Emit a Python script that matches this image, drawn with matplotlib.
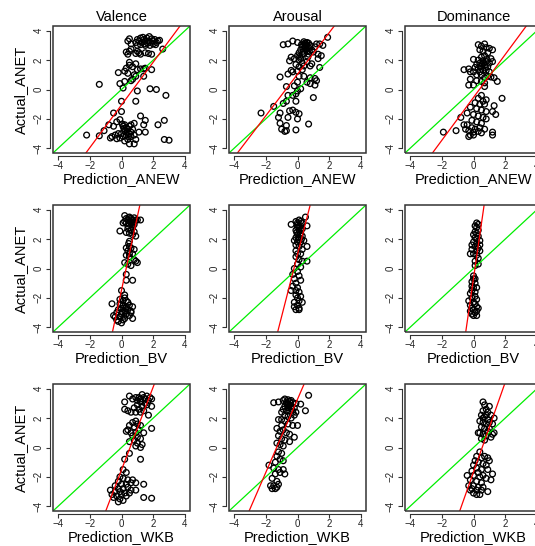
import matplotlib
matplotlib.use("Agg")
import matplotlib.pyplot as plt
from matplotlib.patches import Rectangle
import numpy as np

plt.rcParams['font.family'] = ['Liberation Sans', 'DejaVu Sans']

col_titles = ["Valence", "Arousal", "Dominance"]
row_labels = ["Prediction_ANEW", "Prediction_BV", "Prediction_WKB"]
y_label = "Actual_ANET"
ticks = [-4, -2, 0, 2, 4]

# (prediction, actual) pairs
val_anew = [
    (0.5, 3.45), (0.4, 3.3), (0.6, 3.1), (0.9, 3.2), (1.0, 3.4), (1.1, 3.3), (1.2, 3.5), (1.3, 3.2),
    (1.4, 3.4), (1.5, 3.3), (1.6, 3.5), (1.7, 3.3), (1.8, 3.2), (1.9, 3.45), (2.0, 3.3), (2.1, 3.4),
    (2.2, 3.2), (2.3, 3.3), (2.4, 3.35), (1.2, 3.05), (1.5, 3.0), (1.8, 3.0), (2.0, 3.1), (1.0, 3.0),
    (1.35, 3.55), (1.65, 3.15), (1.75, 3.6), (1.45, 3.1), (2.15, 3.05),
    (2.6, 2.75), (0.3, 2.55), (0.5, 2.6), (0.6, 2.75), (0.9, 2.45), (1.1, 2.5), (1.2, 2.4), (1.5, 2.5),
    (1.7, 2.45), (1.9, 2.4), (1.0, 2.6), (0.4, 2.4), (0.5, 1.85), (0.5, 1.65), (0.7, 1.55), (0.9, 1.75),
    (0.3, 1.45), (0.2, 1.25), (-0.2, 1.15), (0.4, 1.1), (0.8, 1.0), (1.0, 1.35), (1.2, 1.4), (1.4, 1.4),
    (1.5, 1.45), (1.9, 1.35), (1.4, 0.9), (0.6, 0.6), (0.7, 0.7), (0.9, 0.9), (0.2, 0.55), (-0.1, 0.4),
    (0.1, 0.1), (-1.4, 0.35), (1.0, -0.1), (1.8, 0.05), (2.2, 0.0), (2.8, -0.4), (0.9, -0.8), (0.0, -0.8),
    (0.0, -1.5), (-0.5, -1.6), (1.2, -1.8), (1.5, -2.1), (2.7, -2.1), (2.3, -2.4), (1.4, -2.4), (1.5, -2.9),
    (-0.8, -2.4), (-1.1, -2.8), (-1.4, -3.15), (-2.2, -3.1), (2.7, -3.4), (3.0, -3.45), (0.8, -3.7),
    (0.5, -3.7), (-0.3, -2.2), (-0.1, -2.05), (0.1, -2.5), (0.2, -2.4), (0.3, -2.6), (0.4, -2.7),
    (0.5, -2.5), (0.6, -2.4), (0.7, -2.7), (0.8, -2.3), (0.2, -2.8), (0.0, -3.0), (-0.2, -3.0),
    (-0.4, -3.1), (-0.6, -3.2), (-0.7, -3.3), (0.1, -3.2), (0.3, -3.1), (0.5, -3.0), (0.6, -3.2),
    (0.8, -3.1), (0.9, -3.4), (0.4, -3.4), (-0.1, -3.3), (-0.3, -3.35), (0.2, -3.5), (-0.5, -2.5),
    (1.1, -2.9), (0.6, -2.9), (0.15, -2.65), (0.35, -2.9), (0.05, -2.35), (0.45, -3.2),
]
aro_anew = [
    (-0.9, 3.05), (-0.6, 3.1), (-0.3, 3.3), (0.0, 3.2), (0.4, 3.25), (0.5, 3.1), (0.6, 3.2), (0.7, 3.15),
    (0.8, 3.0), (1.2, 3.1), (1.4, 3.1), (1.6, 3.0), (1.9, 3.55), (0.3, 2.9), (0.2, 2.7), (0.5, 2.8),
    (0.6, 2.6), (0.9, 2.7), (1.0, 2.55), (1.1, 2.9), (0.1, 2.5), (0.0, 2.3), (0.3, 2.4), (0.7, 2.4),
    (1.3, 2.4), (1.5, 2.3), (1.3, 2.1), (-0.2, 2.1), (0.1, 2.0), (0.2, 2.1), (-0.4, 2.2), (-0.5, 1.95),
    (0.3, 1.8), (0.6, 1.9), (-0.1, 1.7), (0.1, 1.55), (0.9, 1.75), (0.8, 1.6), (0.4, 1.6), (1.4, 1.5),
    (-0.4, 1.3), (-0.3, 1.2), (0.0, 1.25), (0.3, 1.35), (-0.6, 1.05), (-1.1, 0.85), (0.1, 0.9),
    (0.4, 0.9), (0.8, 0.8), (1.1, 0.75), (1.2, 0.6), (0.6, 0.5), (0.8, 0.4), (1.1, 0.3), (0.0, 0.5),
    (-0.2, 0.25), (-0.7, 0.2), (0.2, 0.05), (0.0, -0.1), (-0.3, -0.4), (-0.6, -0.4), (-0.1, -0.3),
    (1.0, -0.55), (-0.1, -0.8), (-0.7, -0.8), (-0.9, -0.95), (-1.5, -1.15), (-2.3, -1.6), (-1.1, -1.6),
    (-0.5, -1.45), (-0.3, -1.4), (-0.1, -1.55), (0.1, -1.65), (-1.2, -1.9), (-1.1, -2.3), (-0.7, -2.45),
    (-1.0, -2.7), (-0.8, -2.85), (-0.7, -2.8), (-0.1, -2.75), (0.7, -2.35), (-0.6, -1.9), (0.0, -2.0),
    (0.4, 3.0), (0.5, 2.95), (0.55, 2.7), (0.7, 2.85), (0.35, 2.6), (0.45, 3.15), (0.25, 3.05),
    (0.6, 3.05), (0.75, 2.6), (0.4, 2.45), (0.15, 2.25), (0.65, 2.2),
]
dom_anew = [
    (0.3, 3.05), (0.7, 3.1), (0.5, 2.95), (0.8, 2.85), (1.0, 2.8), (1.2, 2.7), (0.4, 2.7), (0.6, 2.6),
    (0.9, 2.5), (0.7, 2.3), (0.5, 2.2), (1.1, 2.1), (0.0, 2.05), (0.3, 2.0), (0.6, 1.95), (0.8, 1.9),
    (1.0, 1.8), (1.2, 1.9), (0.4, 1.8), (0.2, 1.7), (0.5, 1.6), (0.7, 1.65), (0.9, 1.55), (0.1, 1.5),
    (0.3, 1.45), (-0.3, 1.4), (-0.6, 1.35), (-0.2, 1.2), (0.0, 1.2), (0.4, 1.2), (0.6, 1.3), (0.8, 1.3),
    (1.0, 1.2), (0.2, 1.0), (0.5, 1.0), (0.7, 0.8), (0.9, 0.9), (1.1, 0.85), (1.5, 0.55), (-0.2, 0.7),
    (0.2, 0.6), (0.5, 0.55), (0.7, 0.45), (-0.3, 0.3), (0.0, 0.3), (0.7, 0.2), (1.3, 0.8), (1.8, -0.6),
    (0.65, 1.8), (0.55, 1.75), (0.75, 1.5), (0.85, 2.05), (0.45, 1.55),
    (0.5, -0.4), (0.3, -0.6), (0.6, -0.8), (0.8, -0.7), (0.1, -0.9), (0.4, -1.0), (0.7, -1.0),
    (1.3, -1.1), (-0.2, -1.2), (0.2, -1.3), (0.5, -1.4), (0.8, -1.5), (1.2, -1.5), (1.4, -1.7),
    (-0.4, -1.6), (0.0, -1.7), (0.3, -1.8), (0.6, -1.9), (0.8, -2.0), (-0.8, -1.9), (-0.1, -2.1),
    (0.2, -2.2), (0.5, -2.3), (-0.4, -2.4), (-0.1, -2.6), (0.1, -2.7), (0.4, -2.6), (0.7, -2.7),
    (-0.5, -2.7), (-0.3, -2.8), (0.0, -2.9), (0.3, -2.85), (0.5, -2.95), (-0.2, -3.1), (-0.3, -3.2),
    (0.0, -3.1), (1.2, -2.9), (1.2, -3.1), (-1.1, -2.8), (-1.9, -2.9), (-0.6, -2.4),
]
val_bv = [
    (0.2, 3.6), (0.3, 3.4), (0.4, 3.3), (0.5, 3.5), (0.6, 3.4), (0.7, 3.3), (0.8, 3.45), (0.9, 3.3),
    (1.0, 3.3), (1.2, 3.3), (0.3, 3.1), (0.5, 3.0), (0.6, 3.1), (0.8, 3.0), (0.4, 2.9), (0.7, 2.8),
    (0.2, 3.2), (0.1, 3.1), (0.6, 2.6), (0.8, 2.5), (0.5, 2.4), (0.3, 2.45), (-0.1, 2.55), (0.7, 2.3),
    (0.9, 2.2), (0.4, 2.7), (0.5, 1.85), (0.45, 1.7), (0.5, 1.5), (0.3, 1.4), (0.6, 1.4), (0.8, 1.3),
    (0.55, 3.2), (0.75, 3.1), (0.45, 3.45), (0.65, 2.95),
    (0.4, 1.2), (0.5, 1.0), (0.7, 1.0), (0.3, 0.9), (0.5, 0.8), (0.8, 0.6), (0.9, 0.5), (1.0, 0.4),
    (0.2, 0.4), (0.4, 0.3), (0.6, 0.2), (0.3, -0.4), (0.3, -0.8), (0.7, -0.8), (0.0, -1.5), (0.2, -1.8),
    (-0.1, -2.1), (0.1, -2.2), (0.3, -2.2), (-0.1, -2.4), (0.1, -2.5), (0.3, -2.6), (-0.6, -2.4),
    (0.5, -2.5), (0.0, -2.7), (-0.2, -2.8), (0.2, -2.9), (0.4, -2.8), (0.6, -2.9), (0.7, -2.6),
    (-0.3, -3.0), (0.0, -3.1), (0.3, -3.1), (0.5, -3.2), (0.6, -3.0), (-0.5, -3.2), (-0.4, -3.3),
    (-0.1, -3.3), (0.2, -3.4), (0.7, -3.4), (-0.2, -3.6), (0.0, -3.7), (0.1, -3.5), (-0.3, -3.5),
    (0.4, -2.3), (0.2, -2.0), (0.05, -2.95), (0.25, -2.7), (0.15, -3.25),
]
aro_bv = [
    (-0.4, 3.0), (-0.1, 3.2), (0.0, 3.1), (0.1, 3.3), (0.2, 3.2), (0.3, 3.1), (0.5, 3.5), (0.6, 2.9),
    (0.2, 2.9), (0.0, 2.8), (-0.1, 2.6), (0.1, 2.6), (0.3, 2.7), (0.2, 2.4), (0.0, 2.3), (-0.1, 2.1),
    (0.1, 2.1), (0.3, 2.2), (-0.2, 1.9), (0.0, 1.8), (0.2, 1.8), (0.4, 1.9), (-0.1, 1.6), (0.1, 1.5),
    (0.6, 1.5), (0.3, 1.3), (-0.1, 1.2), (0.0, 1.0), (0.2, 1.0), (-0.1, 0.8), (0.1, 0.6), (0.3, 0.5),
    (0.6, 0.5), (0.0, 0.3), (-0.2, 0.0), (0.2, 0.1), (0.0, -0.2), (-0.3, -0.4), (0.1, -0.5),
    (-0.2, -0.7), (0.2, -0.8), (-0.1, -1.0), (-0.3, -1.2), (0.0, -1.3), (-0.1, -1.5), (0.1, -1.6),
    (-0.4, -1.5), (-0.1, -1.8), (0.0, -2.0), (0.1, -2.2), (-0.2, -2.3), (0.0, -2.5), (-0.2, -2.6),
    (0.1, -2.7), (-0.1, -2.8), (0.1, -2.8), (0.3, -2.3), (0.2, -1.9), (0.0, 2.95), (0.1, 2.85),
    (0.2, 2.65), (-0.05, 2.45), (0.15, 2.3), (0.05, 1.95), (0.25, 2.0),
]
dom_bv = [
    (0.2, 3.1), (0.3, 3.0), (0.1, 2.9), (0.2, 2.8), (0.3, 2.6), (0.1, 2.5), (0.2, 2.4), (0.0, 2.3),
    (0.3, 2.2), (0.1, 2.1), (0.2, 2.0), (0.4, 1.9), (0.0, 1.8), (0.2, 1.7), (0.4, 1.6), (-0.1, 1.6),
    (0.1, 1.5), (0.3, 1.4), (-0.1, 1.3), (0.2, 1.2), (0.4, 1.2), (0.0, 1.0), (-0.2, 1.0), (0.2, 0.9),
    (0.3, 0.7), (0.1, 0.5), (0.3, 0.3), (0.1, 0.2), (0.0, -0.5), (0.1, -0.7), (-0.1, -0.9), (0.1, -1.0),
    (-0.1, -1.2), (0.0, -1.3), (-0.1, -1.5), (0.1, -1.6), (-0.2, -1.7), (0.1, -1.9), (-0.1, -2.0),
    (0.2, -2.1), (-0.3, -2.2), (0.0, -2.3), (0.1, -2.4), (-0.2, -2.5), (0.2, -2.6), (-0.1, -2.7),
    (0.0, -2.8), (0.3, -2.7), (-0.2, -2.9), (0.1, -3.0), (-0.1, -3.1), (0.0, -3.2), (0.2, -3.2),
    (0.2, -1.3), (0.0, -0.7), (0.2, -2.9),
]
val_wkb = [
    (0.5, 3.5), (0.7, 3.3), (0.9, 3.4), (1.0, 3.2), (1.1, 3.4), (1.2, 3.3), (1.3, 3.6), (1.4, 3.4),
    (1.5, 3.3), (1.6, 3.5), (1.7, 3.2), (1.8, 3.4), (1.9, 3.3), (1.2, 3.1), (1.5, 3.0), (1.0, 2.9),
    (1.3, 2.8), (1.6, 2.9), (1.9, 2.8), (0.8, 2.7), (1.1, 2.6), (1.4, 2.5), (1.7, 2.2), (0.2, 3.1),
    (0.2, 2.6), (0.4, 2.5), (0.6, 2.4), (0.9, 2.4), (1.2, 2.4), (0.9, 1.8), (0.7, 1.7), (1.0, 1.6),
    (1.2, 1.5), (0.5, 1.5), (0.8, 1.4), (1.1, 1.2), (0.4, 1.2), (0.3, 1.1), (0.6, 1.0), (0.9, 1.0),
    (1.4, 1.0), (1.9, 1.3), (0.7, 0.8), (1.0, 0.7), (1.2, 0.6), (0.8, 0.5), (0.5, 0.4), (1.0, 0.3),
    (1.3, 0.2), (0.9, 0.1), (1.2, 0.0), (0.5, -0.4), (0.2, -0.8), (1.2, -0.8), (0.1, -1.5), (0.3, -1.7),
    (-0.1, -2.0), (0.1, -2.1), (0.4, -2.2), (0.7, -2.2), (0.9, -2.4), (-0.2, -2.3), (0.0, -2.5),
    (0.3, -2.5), (0.6, -2.4), (1.4, -2.5), (-0.4, -2.6), (-0.2, -2.8), (0.1, -2.8), (0.4, -2.7),
    (0.6, -2.9), (0.9, -2.9), (-0.7, -2.9), (-0.4, -3.0), (-0.1, -3.0), (0.2, -3.1), (0.5, -3.1),
    (-0.6, -3.2), (-0.3, -3.3), (0.0, -3.2), (0.3, -3.3), (-0.1, -3.5), (0.1, -3.6), (-0.2, -3.7),
    (1.4, -3.4), (1.9, -3.45), (-0.5, -3.4),
]
aro_wkb = [
    (-1.5, 3.05), (-1.2, 3.1), (-0.9, 3.2), (-0.8, 3.3), (-0.6, 3.25), (-0.5, 3.15), (-0.4, 3.2),
    (-0.3, 3.05), (-0.1, 3.0), (0.7, 3.55), (0.2, 2.95), (0.5, 2.5), (-0.7, 3.0), (-0.5, 2.9),
    (-0.8, 2.8), (-0.6, 2.7), (-0.4, 2.8), (-0.2, 2.7), (-0.9, 2.6), (-0.7, 2.5), (-0.5, 2.5),
    (-0.3, 2.4), (-1.0, 2.4), (-0.8, 2.2), (-0.6, 2.1), (-0.4, 2.0), (-0.2, 2.2), (-0.1, 2.4),
    (-1.2, 1.9), (-1.0, 1.9), (-0.8, 1.8), (-0.6, 1.6), (-0.3, 1.5), (0.0, 1.5), (-1.0, 1.5),
    (-1.3, 1.3), (-1.1, 1.1), (-0.9, 1.2), (-0.7, 1.0), (-0.5, 0.9), (-0.2, 0.7), (-1.2, 0.8),
    (-1.0, 0.6), (-0.8, 0.5), (-0.5, 0.4), (-1.3, 0.3), (-1.1, 0.2), (-0.9, 0.1), (-1.2, -0.3),
    (-1.0, -0.4), (-1.3, -0.6), (-1.1, -0.8), (-0.9, -0.9), (-1.4, -1.0), (-1.8, -1.2), (-1.5, -1.4),
    (-1.2, -1.5), (-0.9, -1.5), (-0.8, -1.8), (-1.1, -1.7), (-1.4, -1.8), (-1.6, -2.1), (-1.3, -2.3),
    (-1.5, -2.6), (-1.3, -2.7), (-1.6, -2.8), (-1.4, -2.8), (-1.2, -2.5), (-1.7, -2.6),
    (-0.7, 3.1), (-0.6, 2.95), (-0.45, 3.05), (-0.55, 2.8), (-0.35, 2.6),
]
dom_wkb = [
    (0.6, 3.1), (0.7, 2.9), (1.0, 2.8), (0.8, 2.6), (0.6, 2.5), (0.9, 2.4), (1.1, 2.2), (0.5, 2.2),
    (0.7, 2.1), (1.3, 2.0), (0.9, 1.9), (1.0, 1.7), (0.4, 1.8), (0.6, 1.7), (0.8, 1.6), (1.2, 1.6),
    (0.5, 1.4), (0.7, 1.3), (1.0, 1.3), (0.9, 1.1), (1.3, 1.0), (0.4, 1.0), (0.6, 0.9), (0.8, 0.8),
    (1.1, 0.7), (0.5, 0.6), (0.7, 0.5), (1.2, 0.9), (0.3, 1.0), (0.6, 2.0), (0.8, 2.2), (0.4, -0.3),
    (0.2, -0.6), (0.5, -0.7), (0.7, -0.6), (0.9, -0.7), (1.0, -0.9), (0.1, -0.9), (0.3, -1.0),
    (0.6, -1.1), (0.8, -1.2), (0.0, -1.2), (0.2, -1.4), (0.5, -1.5), (0.9, -1.5), (-0.1, -1.6),
    (0.3, -1.7), (0.6, -1.9), (1.2, -1.8), (-0.4, -1.9), (0.0, -1.9), (0.4, -2.0), (0.8, -2.1),
    (1.1, -2.2), (-0.2, -2.2), (0.2, -2.3), (0.5, -2.4), (-0.3, -2.6), (0.0, -2.6), (0.3, -2.7),
    (0.6, -2.7), (-0.1, -2.8), (0.2, -2.9), (0.5, -2.9), (0.9, -3.0), (0.0, -3.1), (0.2, -3.2),
    (0.4, -3.2), (-0.2, -2.9),
]

panels = [[val_anew, aro_anew, dom_anew],
          [val_bv, aro_bv, dom_bv],
          [val_wkb, aro_wkb, dom_wkb]]

# regression (red) lines: intercept and slope per panel
fit_intercept = [[-1.05, 1.04, -0.54],
                 [-1.47, 0.95, -0.67],
                 [-1.52, 3.28, -1.67]]
fit_slope = [[1.455, 1.414, 1.46],
             [5.0, 4.21, 7.45],
             [2.82, 2.49, 3.05]]

W, H = 535, 546
fig = plt.figure(figsize=(W / 100, H / 100), dpi=100)

col_left = [53, 229, 405]
row_top = [26, 205, 384]
pw, ph = 137, 127

for r in range(3):
    for c in range(3):
        ax = fig.add_axes([col_left[c] / W, 1 - (row_top[r] + ph) / H, pw / W, ph / H])
        pts = np.array(panels[r][c])
        ax.scatter(pts[:, 0], pts[:, 1], s=17, facecolors='none', edgecolors='black',
                   linewidths=0.95, zorder=2)
        ax.axline((0, 0), slope=1, color='#00ee00', lw=0.9, zorder=3)
        ax.axline((0, fit_intercept[r][c]), slope=fit_slope[r][c], color='red', lw=0.9, zorder=3)

        ax.set_xlim(-4.32, 4.32)
        ax.set_ylim(-4.32, 4.32)
        ax.set_xticks(ticks)
        ax.set_yticks(ticks)
        # R style: axis lines offset from the box, box drawn separately
        for side in ['top', 'right']:
            ax.spines[side].set_visible(False)
        for side in ['bottom', 'left']:
            ax.spines[side].set_position(('outward', 2))
            ax.spines[side].set_bounds(-4, 4)
            ax.spines[side].set_color('#333333')
            ax.spines[side].set_linewidth(0.8)
        ax.add_patch(Rectangle((0, 0), 1, 1, transform=ax.transAxes, fill=False,
                               edgecolor='#333333', lw=1.1, clip_on=False, zorder=4))
        ax.tick_params(direction='out', length=3, width=0.8, color='#333333',
                       labelsize=7, labelcolor='#222222')
        ax.tick_params(axis='x', pad=1)
        ax.tick_params(axis='y', pad=1.5, labelrotation=90)
        plt.setp(ax.get_yticklabels(), va='center')

        ax.text(0.5, -0.205, row_labels[r], transform=ax.transAxes, ha='center', va='center',
                fontsize=10.5)
        if r == 0:
            ax.text(0.5, 1.07, col_titles[c], transform=ax.transAxes, ha='center', va='center',
                    fontsize=10.5)
        if c == 0:
            ax.text(-0.235, 0.5, y_label, transform=ax.transAxes, ha='center', va='center',
                    rotation=90, fontsize=10.5)

fig.savefig("out.png", dpi=100)
